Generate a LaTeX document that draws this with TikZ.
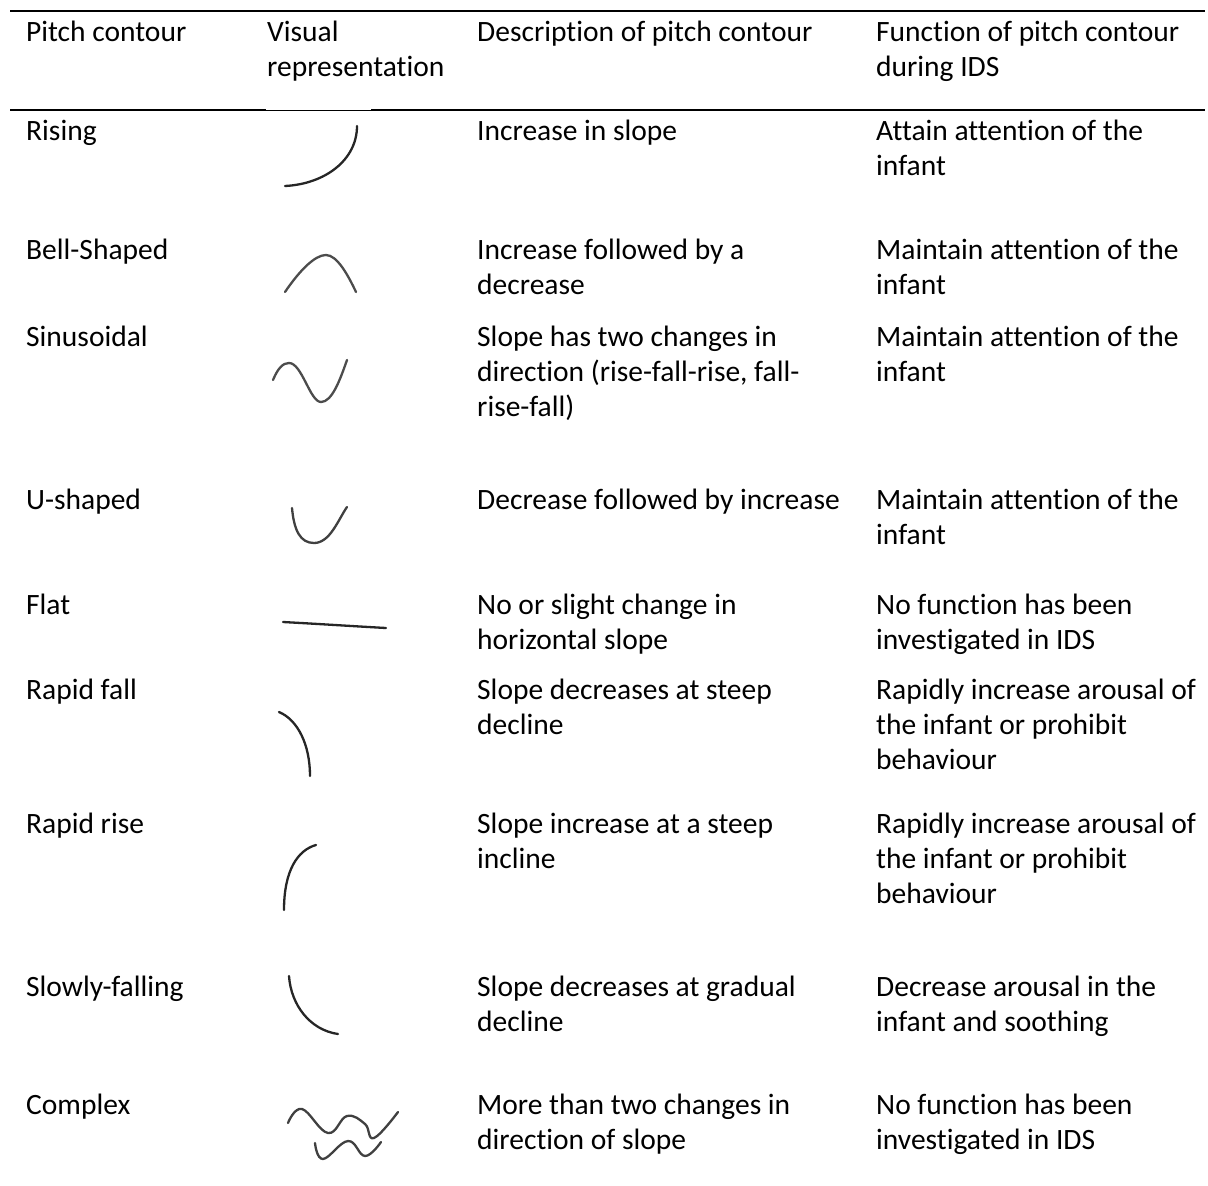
\documentclass[tikz,border=0pt]{standalone}
\usepackage{fontspec}
\setmainfont{Carlito}[Ligatures = NoCommon]
\usepackage{xcolor}
\usetikzlibrary{positioning}

% first line of a cell sits on the node's base
\newcommand{\celltext}[1]{\parbox[t]{400pt}{\raggedright #1}}

\begin{document}
\begin{tikzpicture}[
		x = 1pt, y = -1pt,
		cell/.style = {anchor = base west, inner sep = 0pt, font = \fontsize{29.5}{35}\selectfont},
		rule/.style = {line width = 2.8pt},
		thinrule/.style = {line width = 1pt},
		contour/.style = {line width = 2.3pt, black!85, line cap = round}
		]
\useasboundingbox (0,0) rectangle (1208,1186);

% rules of the table
\coordinate (tl) at (10,11);
\coordinate (tr) at (1205,11);
\coordinate (ml) at (10,110);
\coordinate (ma) at (266,110);
\coordinate (mb) at (371,110);
\coordinate (mr) at (1205,110);
\draw[rule] (tl) -- (tr);
\draw[rule] (ml) -- (ma);
\draw[thinrule] (ma) -- (mb);
\draw[rule] (mb) -- (mr);

% header
\node[cell] (hcontour) at (26,41) {\celltext{Pitch contour}};
\node[cell] (hvisual) at (267,41) {\celltext{Visual\\representation}};
\node[cell] (hdesc) at (477,41) {\celltext{Description of pitch contour}};
\node[cell] (hfunc) at (876,41) {\celltext{Function of pitch contour\\during IDS}};

% rows
\node[cell] (rising) at (26,140) {\celltext{Rising}};
\node[cell] (risingd) at (477,140) {\celltext{Increase in slope}};
\node[cell] (risingf) at (876,140) {\celltext{Attain attention of the\\infant}};
\draw[contour] (285,186) .. controls (325,184) and (357,160) .. (357,126);

\node[cell] (bell) at (26,259) {\celltext{Bell-Shaped}};
\node[cell] (belld) at (477,259) {\celltext{Increase followed by a\\decrease}};
\node[cell] (bellf) at (876,259) {\celltext{Maintain attention of the\\infant}};
\draw[contour, black!70] (285,292) .. controls (300,270) and (315,255) .. (326,255) .. controls (337,255) and (348,275) .. (356,292);

\node[cell] (sinus) at (26,346) {\celltext{Sinusoidal}};
\node[cell] (sinusd) at (477,346) {\celltext{Slope has two changes in\\direction (rise-fall-rise, fall-\\rise-fall)}};
\node[cell] (sinusf) at (876,346) {\celltext{Maintain attention of the\\infant}};
\draw[contour, black!70] (273,380) .. controls (278,368) and (283,363) .. (289,363) .. controls (302,363) and (310,402) .. (321,402) .. controls (332,402) and (340,380) .. (347,360);

\node[cell] (ushape) at (26,509) {\celltext{U-shaped}};
\node[cell] (ushaped) at (477,509) {\celltext{Decrease followed by increase}};
\node[cell] (ushapef) at (876,509) {\celltext{Maintain attention of the\\infant}};
\draw[contour, black!75] (292,508) .. controls (294,530) and (300,543) .. (314,543) .. controls (330,543) and (338,520) .. (347,507);

\node[cell] (flat) at (26,614) {\celltext{Flat}};
\node[cell] (flatd) at (477,614) {\celltext{No or slight change in\\horizontal slope}};
\node[cell] (flatf) at (876,614) {\celltext{No function has been\\investigated in IDS}};
\draw[contour] (283,622) .. controls (320,624) and (350,626) .. (386,628);

\node[cell] (rfall) at (26,699) {\celltext{Rapid fall}};
\node[cell] (rfalld) at (477,699) {\celltext{Slope decreases at steep\\decline}};
\node[cell] (rfallf) at (876,699) {\celltext{Rapidly increase arousal of\\the infant or prohibit\\behaviour}};
\draw[contour] (279,712) .. controls (298,720) and (310,745) .. (310,776);

\node[cell] (rrise) at (26,833) {\celltext{Rapid rise}};
\node[cell] (rrised) at (477,833) {\celltext{Slope increase at a steep\\incline}};
\node[cell] (rrisef) at (876,833) {\celltext{Rapidly increase arousal of\\the infant or prohibit\\behaviour}};
\draw[contour] (284,910) .. controls (284,870) and (298,850) .. (316,845);

\node[cell] (sfall) at (26,996) {\celltext{Slowly-falling}};
\node[cell] (sfalld) at (477,996) {\celltext{Slope decreases at gradual\\decline}};
\node[cell] (sfallf) at (876,996) {\celltext{Decrease arousal in the\\infant and soothing}};
\draw[contour] (289,976) .. controls (291,1005) and (310,1030) .. (338,1034);

\node[cell] (complex) at (26,1114) {\celltext{Complex}};
\node[cell] (complexd) at (477,1114) {\celltext{More than two changes in\\direction of slope}};
\node[cell] (complexf) at (876,1114) {\celltext{No function has been\\investigated in IDS}};
\draw[contour, black!75] plot[smooth, tension = 0.7] coordinates {(288,1123) (302,1109) (328,1133) (347,1116) (365,1124) (374,1138) (398,1112)};
\draw[contour, black!75] plot[smooth, tension = 0.7] coordinates {(315,1143) (323,1159) (348,1141) (365,1156) (381,1142)};

\end{tikzpicture}
\end{document}
